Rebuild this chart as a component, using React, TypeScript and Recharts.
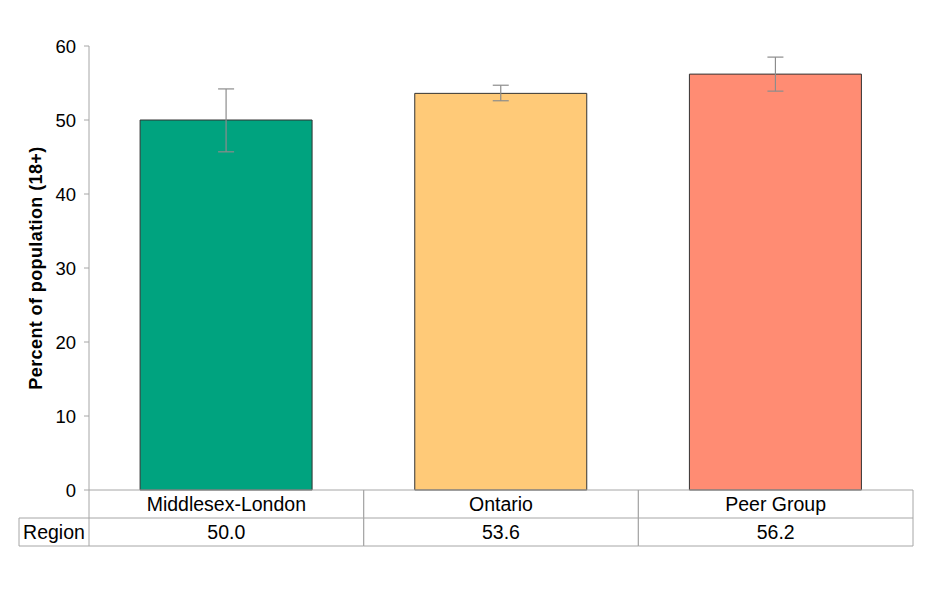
import React from "react";
import { ComposedChart, Bar, XAxis, YAxis, ErrorBar, Cell, Label } from "recharts";

const categories = ["Middlesex-London", "Ontario", "Peer Group"];
const values = [50.0, 53.6, 56.2];
const lowerCI = [45.7, 52.6, 53.9];
const upperCI = [54.2, 54.7, 58.5];
const barColors = ["#00A37F", "#FFCA78", "#FF8C73"];
const yTicks = [0, 10, 20, 30, 40, 50, 60];
const rowLabel = "Region";

const data = categories.map((c, i) => ({
  name: c,
  value: values[i],
  err: [values[i] - lowerCI[i], upperCI[i] - values[i]],
  label: values[i].toFixed(1),
}));

const FONT = "'Liberation Sans', Arial, sans-serif";
const GRID = "#A6A6A6";
const TFS = 19.5;

const TableTick = (props: any) => {
  const { x, y, payload, index } = props;
  const half = payload && payload.offset ? payload.offset : 137;
  const row = 28;
  const left = x - half;
  const right = x + half;
  const d = data[index] || data.find((e) => e.name === payload.value);
  return (
    <g>
      <line x1={left} y1={y} x2={left} y2={y + row * 2} stroke={GRID} />
      <line x1={right} y1={y} x2={right} y2={y + row * 2} stroke={GRID} />
      <line x1={left} y1={y + row} x2={right} y2={y + row} stroke={GRID} />
      <line x1={left} y1={y + row * 2} x2={right} y2={y + row * 2} stroke={GRID} />
      <text x={x} y={y + row / 2 + 7} textAnchor="middle" fontSize={TFS} fontFamily={FONT} fill="#000">
        {payload.value}
      </text>
      <text x={x} y={y + row * 1.5 + 7} textAnchor="middle" fontSize={TFS} fontFamily={FONT} fill="#000">
        {d ? d.label : ""}
      </text>
      {index === 0 && (
        <g>
          <line x1={left - 70} y1={y + row} x2={left} y2={y + row} stroke={GRID} />
          <line x1={left - 70} y1={y + row * 2} x2={left} y2={y + row * 2} stroke={GRID} />
          <line x1={left - 70} y1={y + row} x2={left - 70} y2={y + row * 2} stroke={GRID} />
          <text x={left - 35} y={y + row * 1.5 + 7} textAnchor="middle" fontSize={TFS} fontFamily={FONT} fill="#000">
            {rowLabel}
          </text>
        </g>
      )}
    </g>
  );
};

export default function App() {
  return (
    <div style={{ position: "absolute", left: 0, top: 0, background: "#fff" }}>
      <ComposedChart
        width={930}
        height={606}
        data={data}
        margin={{ top: 46, right: 17, bottom: 0, left: 0 }}
        barCategoryGap="18.6%"
      >
        <XAxis
          dataKey="name"
          axisLine={{ stroke: GRID }}
          tickLine={false}
          tick={<TableTick />}
          tickSize={0}
          tickMargin={0}
          height={116}
          interval={0}
        />
        <YAxis
          width={89}
          domain={[0, 60]}
          ticks={yTicks}
          interval={0}
          axisLine={{ stroke: GRID }}
          tickLine={{ stroke: GRID }}
          tickSize={5}
          tickMargin={8}
          tick={{ fontSize: 18.5, fontFamily: FONT, fill: "#000" }}
        >
          <Label
            value="Percent of population (18+)"
            angle={-90}
            position="center"
            dx={-9}
            style={{ fontSize: 18, fontWeight: "bold", fontFamily: FONT, fill: "#000", letterSpacing: 0.4 }}
          />
        </YAxis>
        <Bar dataKey="value" isAnimationActive={false} stroke="#333" strokeWidth={1}>
          {data.map((d, i) => (
            <Cell key={d.name} fill={barColors[i]} />
          ))}
          <ErrorBar dataKey="err" width={8} stroke="#8C8C8C" strokeWidth={1.2} />
        </Bar>
      </ComposedChart>
    </div>
  );
}
